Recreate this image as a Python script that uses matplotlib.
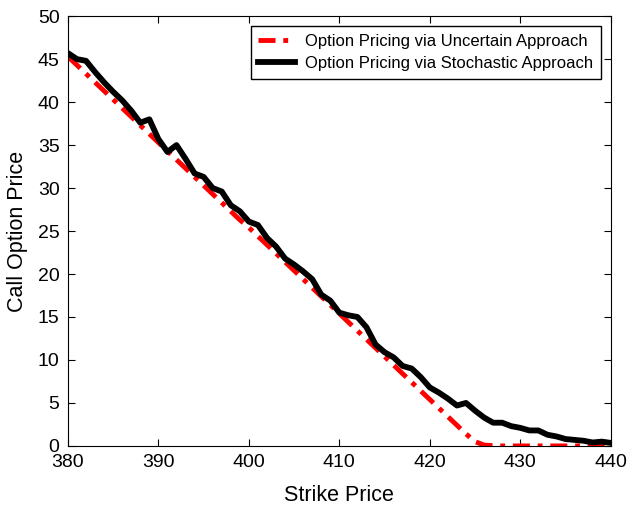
import numpy as np
import matplotlib
matplotlib.use("Agg")
import matplotlib.pyplot as plt

plt.rcParams['font.family'] = ['Liberation Sans', 'DejaVu Sans']

strike = list(range(380, 441))

# call price, uncertain approach (red dash-dot)
uncertain_price = [45.3, 44.3, 43.3, 42.3, 41.3, 40.3, 39.3, 38.3, 37.3, 36.3,
                   35.3, 34.3, 33.3, 32.3, 31.3, 30.3, 29.3, 28.3, 27.3, 26.3,
                   25.4, 24.4, 23.4, 22.4, 21.4, 20.4, 19.4, 18.4, 17.4, 16.4,
                   15.4, 14.4, 13.4, 12.4, 11.4, 10.4, 9.4, 8.4, 7.4, 6.4,
                   5.4, 4.4, 3.4, 2.4, 1.4, 0.5, 0.1, 0.03, 0.0, 0.0,
                   0.0, 0.0, 0.0, 0.0, 0.0, 0.0, 0.0, 0.0, 0.0, 0.0, 0.0]

# call price, stochastic approach (black solid)
stochastic_price = [45.7, 45.0, 44.8, 43.5, 42.3, 41.2, 40.2, 39.0, 37.6, 38.0,
                    35.7, 34.2, 35.0, 33.4, 31.7, 31.3, 30.0, 29.6, 28.0, 27.3,
                    26.1, 25.7, 24.2, 23.2, 21.8, 21.1, 20.3, 19.4, 17.6, 16.9,
                    15.5, 15.2, 15.0, 13.8, 11.8, 10.9, 10.3, 9.3, 9.0, 8.0,
                    6.8, 6.2, 5.5, 4.7, 5.0, 4.1, 3.3, 2.7, 2.7, 2.3,
                    2.1, 1.8, 1.8, 1.3, 1.1, 0.8, 0.7, 0.6, 0.4, 0.5, 0.35]

fig = plt.figure(figsize=(6.29, 5.05), dpi=100)
ax = fig.add_axes([0.108, 0.117, 0.863, 0.851])

ax.plot(strike, uncertain_price, color='red', lw=3.5, linestyle=(0, (3.5, 1.6, 1, 1.6)),
        label='Option Pricing via Uncertain Approach')
ax.plot(strike, stochastic_price, color='black', lw=4.2,
        label='Option Pricing via Stochastic Approach')

ax.set_xlim(380, 440)
ax.set_ylim(0, 50)
ax.set_xticks(range(380, 441, 10))
ax.set_yticks(range(0, 51, 5))
ax.tick_params(direction='in', top=True, right=True, length=5, labelsize=14, pad=6)
ax.set_xlabel('Strike Price', fontsize=15.5, labelpad=10)
ax.set_ylabel('Call Option Price', fontsize=15.5, labelpad=7)

leg = ax.legend(loc='upper right', fontsize=12, fancybox=False, framealpha=1,
                edgecolor='black', handlelength=2.2, handletextpad=0.6,
                borderpad=0.45, labelspacing=0.45, borderaxespad=0.6)
leg.get_frame().set_linewidth(1)

fig.savefig('out.png', dpi=100)
